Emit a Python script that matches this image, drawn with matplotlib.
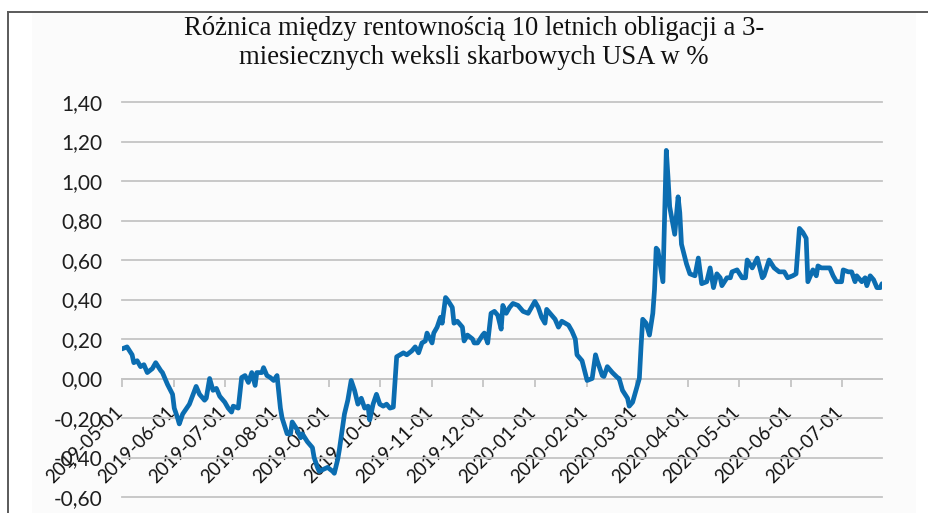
import matplotlib
matplotlib.use("Agg")
import matplotlib.pyplot as plt
import matplotlib.dates as mdates
import matplotlib.transforms as mtransforms
from matplotlib.patches import Rectangle
from matplotlib.lines import Line2D
from matplotlib.ticker import FuncFormatter
import numpy as np
import pandas as pd

# Spread: 10Y Treasury yield minus 3M T-bill yield, in percentage points
dates = [
    "2019-05-01", "2019-05-04", "2019-05-07", "2019-05-08", "2019-05-10", "2019-05-12",
    "2019-05-14", "2019-05-16", "2019-05-19", "2019-05-21", "2019-05-24", "2019-05-25",
    "2019-05-28", "2019-05-31", "2019-06-01", "2019-06-03", "2019-06-04", "2019-06-06",
    "2019-06-10", "2019-06-14", "2019-06-16", "2019-06-19", "2019-06-20", "2019-06-22",
    "2019-06-24", "2019-06-26", "2019-06-28", "2019-07-01", "2019-07-03", "2019-07-05",
    "2019-07-06", "2019-07-09", "2019-07-11", "2019-07-13", "2019-07-15", "2019-07-17",
    "2019-07-19", "2019-07-20", "2019-07-23", "2019-07-24", "2019-07-26", "2019-07-28",
    "2019-07-30", "2019-08-01", "2019-08-03", "2019-08-04", "2019-08-07", "2019-08-09",
    "2019-08-10", "2019-08-13", "2019-08-15", "2019-08-16", "2019-08-19", "2019-08-22",
    "2019-08-23", "2019-08-25", "2019-08-26", "2019-08-31", "2019-09-03", "2019-09-04",
    "2019-09-06", "2019-09-07", "2019-09-10", "2019-09-12", "2019-09-14", "2019-09-16",
    "2019-09-18", "2019-09-20", "2019-09-22", "2019-09-24", "2019-09-25", "2019-09-27",
    "2019-09-29", "2019-10-01", "2019-10-03", "2019-10-05", "2019-10-07", "2019-10-09",
    "2019-10-11", "2019-10-13", "2019-10-15", "2019-10-17", "2019-10-20", "2019-10-22",
    "2019-10-24", "2019-10-26", "2019-10-28", "2019-10-29", "2019-11-01", "2019-11-02",
    "2019-11-04", "2019-11-06", "2019-11-07", "2019-11-09", "2019-11-10", "2019-11-13",
    "2019-11-14", "2019-11-16", "2019-11-19", "2019-11-20", "2019-11-22", "2019-11-25",
    "2019-11-26", "2019-11-28", "2019-12-01", "2019-12-02", "2019-12-04", "2019-12-06",
    "2019-12-08", "2019-12-10", "2019-12-12", "2019-12-13", "2019-12-15", "2019-12-17",
    "2019-12-19", "2019-12-22", "2019-12-25", "2019-12-28", "2019-12-30", "2020-01-01",
    "2020-01-03", "2020-01-05", "2020-01-07", "2020-01-08", "2020-01-11", "2020-01-13",
    "2020-01-15", "2020-01-17", "2020-01-19", "2020-01-21", "2020-01-23", "2020-01-25",
    "2020-01-26", "2020-01-29", "2020-02-01", "2020-02-04", "2020-02-06", "2020-02-07",
    "2020-02-10", "2020-02-11", "2020-02-13", "2020-02-16", "2020-02-19", "2020-02-20",
    "2020-02-22", "2020-02-25", "2020-02-26", "2020-02-28", "2020-03-01", "2020-03-03",
    "2020-03-04", "2020-03-05", "2020-03-07", "2020-03-09", "2020-03-11", "2020-03-12",
    "2020-03-13", "2020-03-14", "2020-03-17", "2020-03-19", "2020-03-20", "2020-03-21",
    "2020-03-24", "2020-03-26", "2020-03-27", "2020-03-28", "2020-03-31", "2020-04-02",
    "2020-04-05", "2020-04-07", "2020-04-09", "2020-04-12", "2020-04-14", "2020-04-16",
    "2020-04-18", "2020-04-20", "2020-04-21", "2020-04-24", "2020-04-26", "2020-04-27",
    "2020-04-30", "2020-05-03", "2020-05-05", "2020-05-06", "2020-05-09", "2020-05-12",
    "2020-05-15", "2020-05-16", "2020-05-19", "2020-05-22", "2020-05-25", "2020-05-28",
    "2020-05-30", "2020-06-02", "2020-06-04", "2020-06-06", "2020-06-08", "2020-06-10",
    "2020-06-11", "2020-06-14", "2020-06-16", "2020-06-17", "2020-06-19", "2020-06-22",
    "2020-06-24", "2020-06-26", "2020-06-28", "2020-07-01", "2020-07-02", "2020-07-05",
    "2020-07-07", "2020-07-09", "2020-07-10", "2020-07-13", "2020-07-15", "2020-07-16",
    "2020-07-18", "2020-07-20", "2020-07-22", "2020-07-24", "2020-07-25",
]
spread = [
    0.15, 0.16, 0.12, 0.08, 0.09, 0.06,
    0.07, 0.03, 0.05, 0.08, 0.04, 0.03,
    -0.03, -0.08, -0.15, -0.20, -0.23, -0.18,
    -0.13, -0.04, -0.08, -0.11, -0.10, 0.00,
    -0.06, -0.05, -0.09, -0.12, -0.15, -0.17,
    -0.14, -0.15, 0.005, 0.015, -0.02, 0.03,
    -0.035, 0.03, 0.03, 0.055, 0.015, 0.005,
    -0.01, 0.015, -0.15, -0.20, -0.28, -0.28,
    -0.22, -0.26, -0.30, -0.28, -0.32, -0.35,
    -0.40, -0.45, -0.47, -0.45, -0.47, -0.48,
    -0.41, -0.36, -0.18, -0.11, -0.01, -0.06,
    -0.13, -0.10, -0.15, -0.14, -0.21, -0.13,
    -0.08, -0.13, -0.14, -0.13, -0.15, -0.145,
    0.11, 0.12, 0.13, 0.12, 0.14, 0.16,
    0.13, 0.18, 0.19, 0.23, 0.18, 0.23,
    0.26, 0.31, 0.28, 0.41, 0.40, 0.36,
    0.28, 0.29, 0.26, 0.19, 0.22, 0.20,
    0.18, 0.18, 0.22, 0.23, 0.18, 0.33,
    0.34, 0.32, 0.25, 0.37, 0.33, 0.36,
    0.38, 0.37, 0.34, 0.33, 0.36, 0.39,
    0.36, 0.31, 0.28, 0.35, 0.32, 0.30,
    0.26, 0.29, 0.28, 0.27, 0.24, 0.20,
    0.12, 0.09, -0.01, 0.00, 0.12, 0.09,
    0.015, 0.01, 0.06, 0.03, 0.005, 0.00,
    -0.06, -0.10, -0.14, -0.12, -0.06, 0.00,
    0.16, 0.30, 0.28, 0.22, 0.33, 0.45,
    0.66, 0.65, 0.49, 1.155, 1.02, 0.87,
    0.73, 0.92, 0.84, 0.68, 0.58, 0.53,
    0.52, 0.61, 0.48, 0.49, 0.56, 0.46,
    0.53, 0.51, 0.47, 0.51, 0.51, 0.54,
    0.55, 0.51, 0.51, 0.60, 0.56, 0.61,
    0.51, 0.52, 0.60, 0.56, 0.54, 0.54,
    0.51, 0.52, 0.53, 0.76, 0.74, 0.71,
    0.49, 0.55, 0.52, 0.57, 0.56, 0.56,
    0.56, 0.52, 0.49, 0.49, 0.55, 0.54,
    0.54, 0.49, 0.52, 0.49, 0.51, 0.47,
    0.52, 0.50, 0.46, 0.46, 0.48,
]
y_ticks = [-0.60, -0.40, -0.20, 0.00, 0.20, 0.40, 0.60, 0.80, 1.00, 1.20, 1.40]
month_ticks = pd.date_range("2019-05-01", "2020-07-01", freq="MS")
title = ("Różnica między rentownością 10 letnich obligacji a 3-\n"
         "miesiecznych weksli skarbowych USA w %")

W, H = 929, 513
LINE_BLUE = "#0b6db1"
GRID = "#c4c4c4"
LABEL_FONT = ["Lato", "DejaVu Sans"]

x = pd.to_datetime(dates)

fig = plt.figure(figsize=(W / 100, H / 100), dpi=100)
fig.patch.set_facecolor("white")

# chart area panel and frame
fig.add_artist(Rectangle((32 / W, 0), (916 - 32) / W, 1 - 13 / H,
                         transform=fig.transFigure, facecolor="#fbfbfb",
                         edgecolor="none", zorder=-5))
fig.add_artist(Line2D([8 / W, 8 / W], [0, 1 - 12 / H], transform=fig.transFigure,
                      color="#5a5a5a", lw=1.4))
fig.add_artist(Line2D([8 / W, 1], [1 - 12 / H, 1 - 12 / H], transform=fig.transFigure,
                      color="#5a5a5a", lw=1.4))

ax = fig.add_axes([122 / W, 16 / H, 760 / W, 395 / H])
ax.patch.set_alpha(0)

ax.plot(x, spread, color=LINE_BLUE, lw=3.4, solid_joinstyle="round",
        solid_capstyle="round", zorder=5)

ax.set_ylim(-0.6, 1.4)
ax.set_xlim(x[0], x[-1])

# y axis: gridlines, comma decimals
ax.set_yticks(y_ticks)
ax.yaxis.set_major_formatter(FuncFormatter(lambda v, p: f"{v:.2f}".replace(".", ",")))
ax.yaxis.grid(True, color=GRID, lw=1.3)
for gl in ax.get_ygridlines():
    gl.set_clip_on(False)
ax.tick_params(axis="y", length=0, pad=14, labelsize=15, labelcolor="#1e1e1e")

for s in ("left", "right", "top"):
    ax.spines[s].set_visible(False)
ax.spines["bottom"].set_position(("data", 0))
ax.spines["bottom"].set_color(GRID)
ax.spines["bottom"].set_linewidth(1.3)

# x axis: monthly date ticks on the zero line
ax.set_xticks(month_ticks)
ax.xaxis.set_major_formatter(mdates.DateFormatter("%Y-%m-%d"))
ax.tick_params(axis="x", direction="out", length=6, width=1.3, color=GRID,
               pad=16, labelsize=13.4, labelcolor="#111111")
offset = mtransforms.ScaledTranslation(-2 / 100, 0, fig.dpi_scale_trans)
for lab in ax.get_xticklabels():
    lab.set_rotation(45)
    lab.set_ha("right")
    lab.set_va("center")
    lab.set_rotation_mode("anchor")
    lab.set_transform(lab.get_transform() + offset)
    lab.set_family(LABEL_FONT)
for lab in ax.get_yticklabels():
    lab.set_family(LABEL_FONT)

fig.text(474 / W, 1 - 16 / H, title, ha="center", va="top", fontsize=19.2,
         family=["Liberation Serif", "DejaVu Serif"], color="#111111",
         linespacing=1.2)

fig.savefig("out.png", dpi=100)
